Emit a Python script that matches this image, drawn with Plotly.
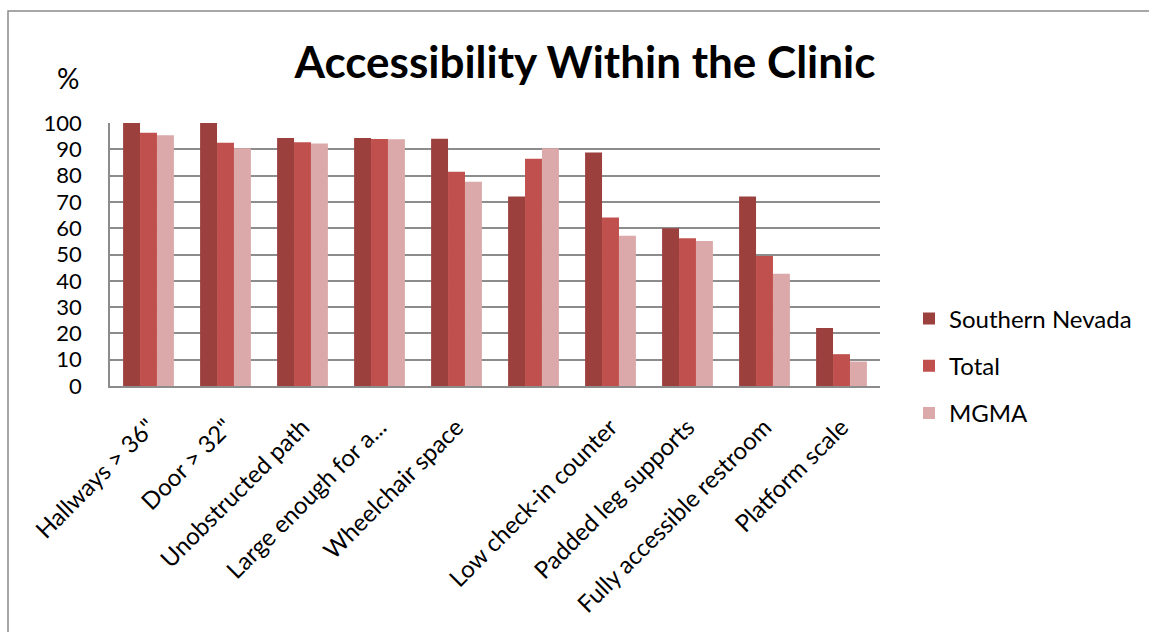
import plotly.graph_objects as go

categories = ['Hallways > 36"', 'Door > 32"', 'Unobstructed path', 'Large enough for a...',
              'Wheelchair space', '', 'Low check-in counter', 'Padded leg supports',
              'Fully accessible restroom', 'Platform scale']
southern_nevada = [100, 100, 94.3, 94.3, 94.0, 72.1, 88.8, 60.0, 72.1, 22.1]
total = [96.3, 92.5, 92.7, 93.9, 81.5, 86.4, 64.1, 56.2, 49.4, 12.1]
mgma = [95.3, 90.4, 92.2, 93.8, 77.7, 90.4, 57.1, 55.1, 42.7, 9.3]
y_ticks = list(range(0, 101, 10))

series = [("Southern Nevada", southern_nevada, "#9C403E"),
          ("Total", total, "#C0504D"),
          ("MGMA", mgma, "#DBA9A9")]

FONT = "Lato"
x = list(range(len(categories)))

fig = go.Figure()
for i, (name, vals, col) in enumerate(series):
    fig.add_trace(go.Bar(x=x, y=vals, name=name, marker=dict(color=col, line=dict(width=0)),
                         legendgroup=str(i)))

W, H = 1149, 632
L, R, T, B = 110, 880, 123, 386
fig.update_layout(
    width=W, height=H,
    margin=dict(l=L, r=W - R, t=T, b=H - B, autoexpand=False),
    paper_bgcolor="white", plot_bgcolor="white",
    barmode="group", bargap=0.34, bargroupgap=0,
    font=dict(family=FONT, color="black"),
    showlegend=True,
    legend=dict(x=(909 - L) / (R - L), y=(B - 366) / (B - T), xanchor="left", yanchor="middle",
                font=dict(size=24, family=FONT), tracegroupgap=13,
                traceorder="grouped", bgcolor="rgba(0,0,0,0)"),
    title=dict(text="<b>Accessibility Within the Clinic</b>", x=(585) / W, xanchor="center",
               y=1 - 63 / H, yanchor="middle", font=dict(size=44, family=FONT)),
    annotations=[dict(text="%", xref="paper", yref="paper",
                      x=(68 - L) / (R - L), y=(B - 78) / (B - T),
                      xanchor="center", yanchor="middle", showarrow=False,
                      font=dict(size=28, family=FONT))],
    shapes=[dict(type="rect", xref="paper", yref="paper",
                 x0=(8 - L) / (R - L), x1=(1170 - L) / (R - L),
                 y0=(B - 660) / (B - T), y1=(B - 11) / (B - T),
                 line=dict(color="#8a8a8a", width=1.5), fillcolor="rgba(0,0,0,0)", layer="below")],
)
fig.update_yaxes(range=[0, 100], tickvals=y_ticks, showgrid=True, gridcolor="#8c8c8c", gridwidth=1.5,
                 showline=True, linecolor="#8c8c8c", linewidth=1.5, zeroline=False, automargin=False,
                 tickfont=dict(size=22, family=FONT), ticklabelstandoff=22, fixedrange=True)
fig.update_xaxes(tickvals=x, ticktext=categories, tickangle=-45, range=[-0.5, 9.5], automargin=False,
                 showline=True, linecolor="#8c8c8c", linewidth=1.5, showgrid=False,
                 tickfont=dict(size=24, family=FONT), ticklabelstandoff=16, fixedrange=True)

fig.write_html("out.html")
